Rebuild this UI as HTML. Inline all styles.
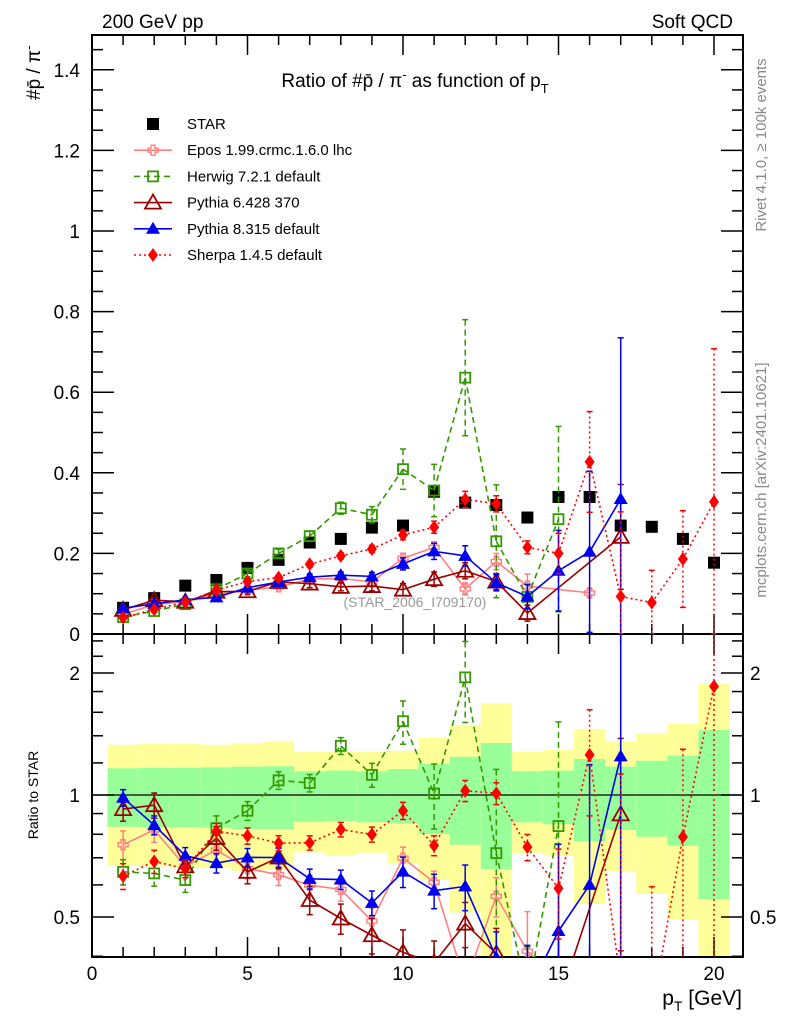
<!DOCTYPE html>
<html><head><meta charset="utf-8">
<style>
html,body{margin:0;padding:0;background:#fff;width:786px;height:1024px;overflow:hidden;}
svg{display:block;overflow:hidden;font-family:"Liberation Sans","DejaVu Sans",sans-serif;}
</style></head>
<body>
<svg id="chart" width="786" height="1024" viewBox="0 0 786 1024" xmlns="http://www.w3.org/2000/svg">
<defs>
<clipPath id="clipMain"><rect x="92" y="35" width="651" height="599"/></clipPath>
<clipPath id="clipRatio"><rect x="92" y="634" width="651" height="323"/></clipPath>
</defs>
<text x="102" y="28" font-size="19">200 GeV pp</text>
<text x="733" y="28" font-size="19" text-anchor="end">Soft QCD</text>
<text x="415" y="87" font-size="19" text-anchor="middle">Ratio of #p̄ / π<tspan dy="-8" font-size="13">-</tspan><tspan dy="8"> as function of p</tspan><tspan dy="6" font-size="13">T</tspan></text>
<text transform="translate(40,100) rotate(-90)" font-size="19">#p̄ / π<tspan dy="-7" font-size="13">-</tspan></text>
<text transform="translate(38,795) rotate(-90)" font-size="14" text-anchor="middle">Ratio to STAR</text>
<text x="742" y="1005" font-size="21" text-anchor="end">p<tspan dy="6" font-size="14">T</tspan><tspan dy="-6"> [GeV]</tspan></text>
<text transform="translate(766,145) rotate(-90)" font-size="15" fill="#888" text-anchor="middle">Rivet 4.1.0, ≥ 100k events</text>
<text transform="translate(766,480) rotate(-90)" font-size="15" fill="#888" text-anchor="middle">mcplots.cern.ch [arXiv:2401.10621]</text>
<text x="415" y="607" font-size="14" fill="#999" text-anchor="middle">(STAR_2006_I709170)</text>
<g id="bands"></g>
<g id="axes"></g>
<g id="series"></g>
<g id="legend"></g>
</svg>
<script>
const pT = [1,2,3,4,5,6,7,8,9,10,11,12,13,14,15,16,17,18,19,20];
const starVals = [.065,.089,.12,.134,.164,.184,.227,.236,.264,.269,.353,.326,.32,.289,.34,.34,.269,.266,.236,.177];
const bandYellowHi = [1.33,1.336,1.336,1.33,1.343,1.354,1.279,1.28,1.28,1.286,1.382,1.489,1.686,1.28,1.291,1.455,1.354,1.422,1.497,1.886];
const bandGreenHi = [1.164,1.166,1.166,1.17,1.175,1.177,1.144,1.149,1.144,1.159,1.193,1.243,1.344,1.144,1.149,1.227,1.175,1.215,1.25,1.447];
const bandGreenLo = [.835,.832,.832,.83,.824,.824,.859,.863,.856,.851,.801,.754,.657,.856,.847,.769,.82,.789,.75,.553];
const bandYellowLo = [.669,.667,.663,.66,.65,.657,.722,.708,.72,.678,.617,.513,.38,.72,.708,.538,.648,.57,.494,.38];
const eposVals = [.049,.073,.080,.098,.108,.117,.136,.138,.129,.188,.215,.112,.18,.119,null,.102];
const eposErr = [.004,.005,.005,.006,.006,.007,.008,.009,.01,.012,.014,.015,.02,.03,0,.01];
const herwigVals = [.042,.057,.074,.111,.150,.200,.243,.312,.296,.409,.356,.636,.23,.092,.285];
const herwigErr = [.003,.004,.005,.008,.008,.01,.012,.015,.02,.05,.065,.144,.14,.03,.23];
const py6Vals = [.060,.084,.080,.105,.106,.129,.125,.117,.119,.110,.136,.157,.13,.052,null,null,.241];
const py6Err = [.004,.006,.005,.007,.007,.008,.01,.01,.012,.015,.018,.02,.02,.02,0,0,.13];
const py8Vals = [.064,.075,.085,.091,.115,.129,.141,.146,.143,.174,.205,.194,.127,.093,.157,.204,.335];
const py8Err = [.003,.004,.004,.005,.006,.007,.008,.008,.01,.015,.02,.025,.02,.03,.1,.2,.4];
const sherpaVals = [.041,.061,.079,.109,.13,.14,.173,.194,.211,.246,.265,.334,.323,.215,.20,.427,.093,.078,.186,.328];
const sherpaErr = [.003,.004,.004,.005,.006,.006,.007,.008,.009,.012,.015,.02,.02,.016,.05,.125,.21,.08,.12,.38];
const mainTicks = [0,0.2,0.4,0.6,0.8,1,1.2,1.4];
const mainTickLabels = ["0","0.2","0.4","0.6","0.8","1","1.2","1.4"];
const xTicks = [0,5,10,15,20];
const ratioTicks = [0.5,1,2];
const ratioTickLabels = ["0.5","1","2"];

const NS="http://www.w3.org/2000/svg";
const X0=92,X1=743,MT=35,MB=634,RT=634,RB=957;
function xs(v){return 92+v*31.1;}
function ym(v){return 634-v*403;}
function yr(r){return 795-122*Math.log2(Math.max(r,0.01));}
function mk(tag,attrs,parent){const e=document.createElementNS(NS,tag);for(const k in attrs)e.setAttribute(k,attrs[k]);parent.appendChild(e);return e;}
const svg=document.getElementById('chart');
const bands=document.getElementById('bands'),axes=document.getElementById('axes'),ser=document.getElementById('series'),leg=document.getElementById('legend');

const bandG=mk('g',{'clip-path':'url(#clipRatio)'},bands);
pT.forEach((p,i)=>{
  const a=xs(p-0.5),b=xs(p+0.5);
  const y1=mk('rect',{x:a,y:yr(bandYellowHi[i]),width:b-a,height:yr(bandYellowLo[i])-yr(bandYellowHi[i]),fill:'#ffff99'},bandG);
  
  
  const g1=mk('rect',{x:a,y:yr(bandGreenHi[i]),width:b-a,height:yr(bandGreenLo[i])-yr(bandGreenHi[i]),fill:'#99ff99'},bandG);
  
  
});
const one=mk('line',{x1:X0,x2:X1,y1:yr(1),y2:yr(1),stroke:'#000','stroke-width':1.3},bands);



[[MT,MB],[RT,RB]].forEach((f,k)=>{
  const r=mk('rect',{x:X0,y:f[0],width:X1-X0,height:f[1]-f[0],fill:'none',stroke:'#000','stroke-width':2},axes);
  
  
});
function tick(x1,y1,x2,y2){mk('line',{x1,y1,x2,y2,stroke:'#000','stroke-width':1.5},axes);}
for(let v=0;v<=20.9;v+=1){
  const x=xs(v);const major=(v%5===0);const L=major?20:10;
  [[MT,MB],[RT,RB]].forEach(f=>{tick(x,f[1],x,f[1]-L);tick(x,f[0],x,f[0]+L);});
}
xTicks.forEach(v=>{
  const t=mk('text',{x:xs(v),y:980,'font-size':19,'text-anchor':'middle'},axes);t.textContent=String(v);
  
  
});
for(let v=0;v<=1.48;v+=0.05){
  const y=ym(v);const major=Math.abs(v/0.2-Math.round(v/0.2))<1e-6;const L=major?22:11;
  tick(X0,y,X0+L,y);tick(X1,y,X1-L,y);
}
mainTicks.forEach((v,i)=>{
  const t=mk('text',{x:80,y:ym(v)+7,'font-size':19,'text-anchor':'end'},axes);t.textContent=mainTickLabels[i];
  
  
});
[0.4,0.5,0.6,0.7,0.8,0.9,1,1.2,1.4,1.6,1.8,2,2.2,2.4].forEach(v=>{
  const y=yr(v);if(y<RT||y>RB)return;const major=[0.5,1,2].includes(v);const L=major?22:11;
  tick(X0,y,X0+L,y);tick(X1,y,X1-L,y);
});
ratioTicks.forEach((v,i)=>{
  const t=mk('text',{x:80,y:yr(v)+7,'font-size':19,'text-anchor':'end'},axes);t.textContent=ratioTickLabels[i];
  
  
  const t2=mk('text',{x:750,y:yr(v)+7,'font-size':19},axes);t2.textContent=ratioTickLabels[i];
  
  
});

function marker(type,cx,cy,color,g){
  const s=6;
  if(type==='sqf')return mk('rect',{x:cx-s,y:cy-s,width:2*s,height:2*s,fill:color},g);
  if(type==='sqo')return mk('rect',{x:cx-s+1,y:cy-s+1,width:2*s-2,height:2*s-2,fill:'#fff','fill-opacity':0,stroke:color,'stroke-width':1.8},g);
  if(type==='trf')return mk('polygon',{points:`${cx},${cy-7} ${cx+7},${cy+5} ${cx-7},${cy+5}`,fill:color},g);
  if(type==='tro')return mk('polygon',{points:`${cx},${cy-8} ${cx+8},${cy+6} ${cx-8},${cy+6}`,fill:'none',stroke:color,'stroke-width':1.8},g);
  if(type==='dia')return mk('polygon',{points:`${cx},${cy-7} ${cx+5},${cy} ${cx},${cy+7} ${cx-5},${cy}`,fill:color},g);
  if(type==='crs')return mk('path',{d:`M${cx-2},${cy-5}h4v3h3v4h-3v3h-4v-3h-3v-4h3z`,fill:'none',stroke:color,'stroke-width':1.4},g);
}
// clip a segment to y-range [lo,hi]; returns null if fully outside
function clipSegY(p,q,lo,hi){
  let [x1,y1]=p,[x2,y2]=q;
  if((y1<lo&&y2<lo)||(y1>hi&&y2>hi))return null;
  function at(y){const t=(y-y1)/(y2-y1);return [x1+t*(x2-x1),y];}
  let a=[x1,y1],b=[x2,y2];
  if(y1<lo)a=at(lo);else if(y1>hi)a=at(hi);
  if(y2<lo)b=at(lo);else if(y2>hi)b=at(hi);
  return [a,b];
}
const seriesDefs=[
  {name:'epos',vals:eposVals,err:eposErr,color:'#ff8080',mk:'crs',dash:'',label:'Epos 1.99.crmc.1.6.0 lhc'},
  {name:'herwig',vals:herwigVals,err:herwigErr,color:'#339900',mk:'sqo',dash:'6,4',label:'Herwig 7.2.1 default'},
  {name:'pythia6',vals:py6Vals,err:py6Err,color:'#990000',mk:'tro',dash:'',label:'Pythia 6.428 370'},
  {name:'pythia8',vals:py8Vals,err:py8Err,color:'#0000ee',mk:'trf',dash:'',label:'Pythia 8.315 default'},
  {name:'sherpa',vals:sherpaVals,err:sherpaErr,color:'#ff0000',mk:'dia',dash:'2,3',label:'Sherpa 1.4.5 default'}
];
const starG=mk('g',{'clip-path':'url(#clipMain)'},ser);


pT.forEach((p,i)=>{const m=marker('sqf',xs(p),ym(starVals[i]),'#000',starG);
  
  });

seriesDefs.forEach(sd=>{
  ['main','ratio'].forEach(panel=>{
    const lo=panel==='main'?MT:RT, hi=panel==='main'?MB:RB;
    const g=mk('g',{'clip-path':panel==='main'?'url(#clipMain)':'url(#clipRatio)'},ser);
    
    
    const pts=[];
    sd.vals.forEach((v,i)=>{
      if(v===null)return;
      const x=xs(pT[i]);
      const f=panel==='main'?(u=>ym(u)):(u=>yr(u/starVals[i]));
      const y=f(v);
      pts.push([x,y]);
      const e=sd.err[i];
      if(e>0){
        let ya=f(v+e),yb=f(Math.max(v-e,0.0005));
        if(!(ya>hi||yb<lo)){
          const ca=ya>=lo&&ya<=hi, cb=yb>=lo&&yb<=hi;
          ya=Math.min(Math.max(ya,lo),hi);yb=Math.min(Math.max(yb,lo),hi);
          mk('line',{x1:x,x2:x,y1:ya,y2:yb,stroke:sd.color,'stroke-width':1.5,'stroke-dasharray':sd.dash},g);
          if(ca)mk('line',{x1:x-3,x2:x+3,y1:ya,y2:ya,stroke:sd.color,'stroke-width':1.5},g);
          if(cb)mk('line',{x1:x-3,x2:x+3,y1:yb,y2:yb,stroke:sd.color,'stroke-width':1.5},g);
        }
      }
    });
    let d='';
    for(let k=0;k<pts.length-1;k++){
      const s=clipSegY(pts[k],pts[k+1],lo,hi);
      if(s)d+=`M${s[0][0].toFixed(2)},${s[0][1].toFixed(2)}L${s[1][0].toFixed(2)},${s[1][1].toFixed(2)}`;
    }
    if(d){
      const pl=mk('path',{d:d,fill:'none',stroke:sd.color,'stroke-width':1.6,'stroke-dasharray':sd.dash},g);
      
      
    }
    pts.forEach(p=>{
      if(p[1]<lo-8||p[1]>hi+8)return;
      const m=marker(sd.mk,p[0],p[1],sd.color,g);
      
      });
  });
});

const lg=[{label:'STAR',color:'#000',mk:'sqf',dash:null}].concat(seriesDefs);
lg.forEach((sd,i)=>{
  const y=124+i*26.2;
  const g=mk('g',{},leg);
  
  
  if(sd.dash!==null) mk('line',{x1:134,x2:172,y1:y,y2:y,stroke:sd.color,'stroke-width':1.6,'stroke-dasharray':sd.dash},g);
  marker(sd.mk,153,y,sd.color,g);
  const t=mk('text',{x:187,y:y+5,'font-size':15},g);t.textContent=sd.label;
});
</script>
</body></html>
